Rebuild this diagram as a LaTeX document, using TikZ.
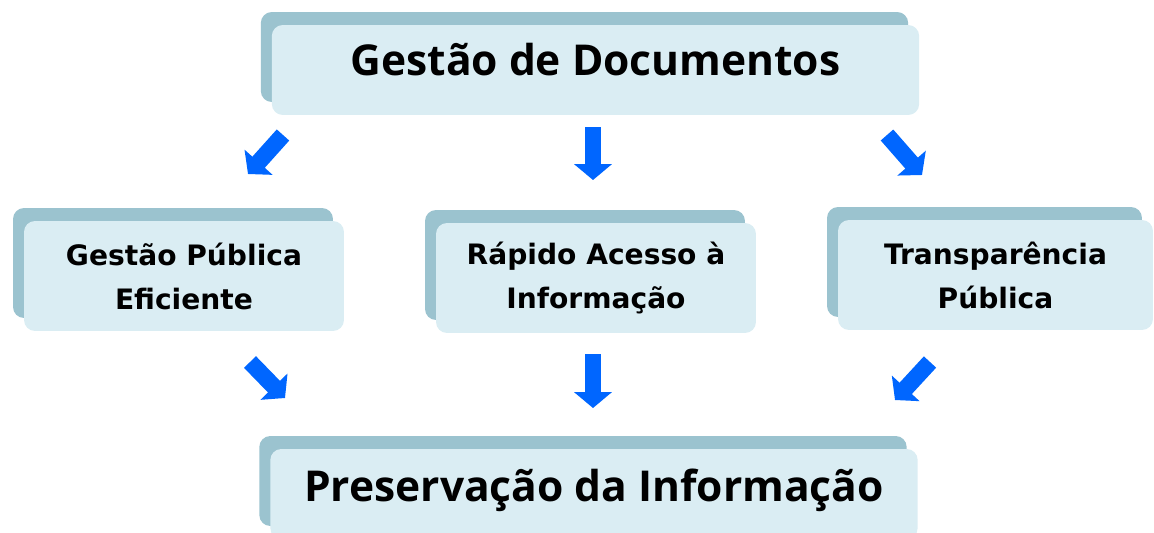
\documentclass[tikz,border=0pt]{standalone}
\usepackage{fontspec}
\setmainfont{DejaVu Sans}
\newfontfamily\titlefont{Open Sans}
\usetikzlibrary{arrows.meta, positioning, calc, shadows}
\definecolor{boxfill}{HTML}{DAEDF3}
\definecolor{boxshade}{HTML}{9BC3CF}
\definecolor{arrowblue}{HTML}{0066FF}

\tikzset{
  cardbox/.style={fill=boxfill, rounded corners=0.22cm, align=center, inner sep=0pt,
    drop shadow={shadow xshift=-0.22cm, shadow yshift=0.26cm, fill=boxshade, opacity=1}},
  bigcard/.style={cardbox, minimum width=12.95cm, minimum height=1.8cm, text height=18pt,
    font=\titlefont\bfseries\fontsize{24.2}{28}\selectfont},
  smallcard/.style={cardbox, minimum width=6.4cm, minimum height=2.2cm,
    font=\bfseries\fontsize{16}{25}\selectfont},
  flowarrow/.style={arrowblue, line width=9.5pt, -{Triangle[width=21pt,length=9pt]}}
}

\begin{document}
\begin{tikzpicture}[x=0.02cm, y=-0.02cm]
  \useasboundingbox (0,0) rectangle (1154,532);

  % the five boxes
  \node[bigcard, text depth=12pt] (gestao) at (595.5,70) {Gestão de Documentos};
  \node[smallcard] (publica) at (184,276) {Gestão Pública\\Eficiente};
  \node[smallcard] (acesso) at (596,278) {Rápido Acesso à\\Informação};
  \node[smallcard, minimum width=6.3cm] (transp) at (995.5,275) {Transparência\\Pública};
  \node[bigcard, text depth=10pt] (preserva) at (594,494) {Preservação da Informação};

  % arrow ends
  \coordinate (t1) at (283,135);  \coordinate (h1) at (248,174);
  \coordinate (t2) at (593,127);  \coordinate (h2) at (593,180);
  \coordinate (t3) at (887,135);  \coordinate (h3) at (922,175);
  \coordinate (t4) at (250,362);  \coordinate (h4) at (285,398);
  \coordinate (t5) at (593,354);  \coordinate (h5) at (593,408);
  \coordinate (t6) at (930,362);  \coordinate (h6) at (895,400);

  \foreach \i in {1,...,6}
    \draw[flowarrow] (t\i) -- (h\i);
\end{tikzpicture}
\end{document}
